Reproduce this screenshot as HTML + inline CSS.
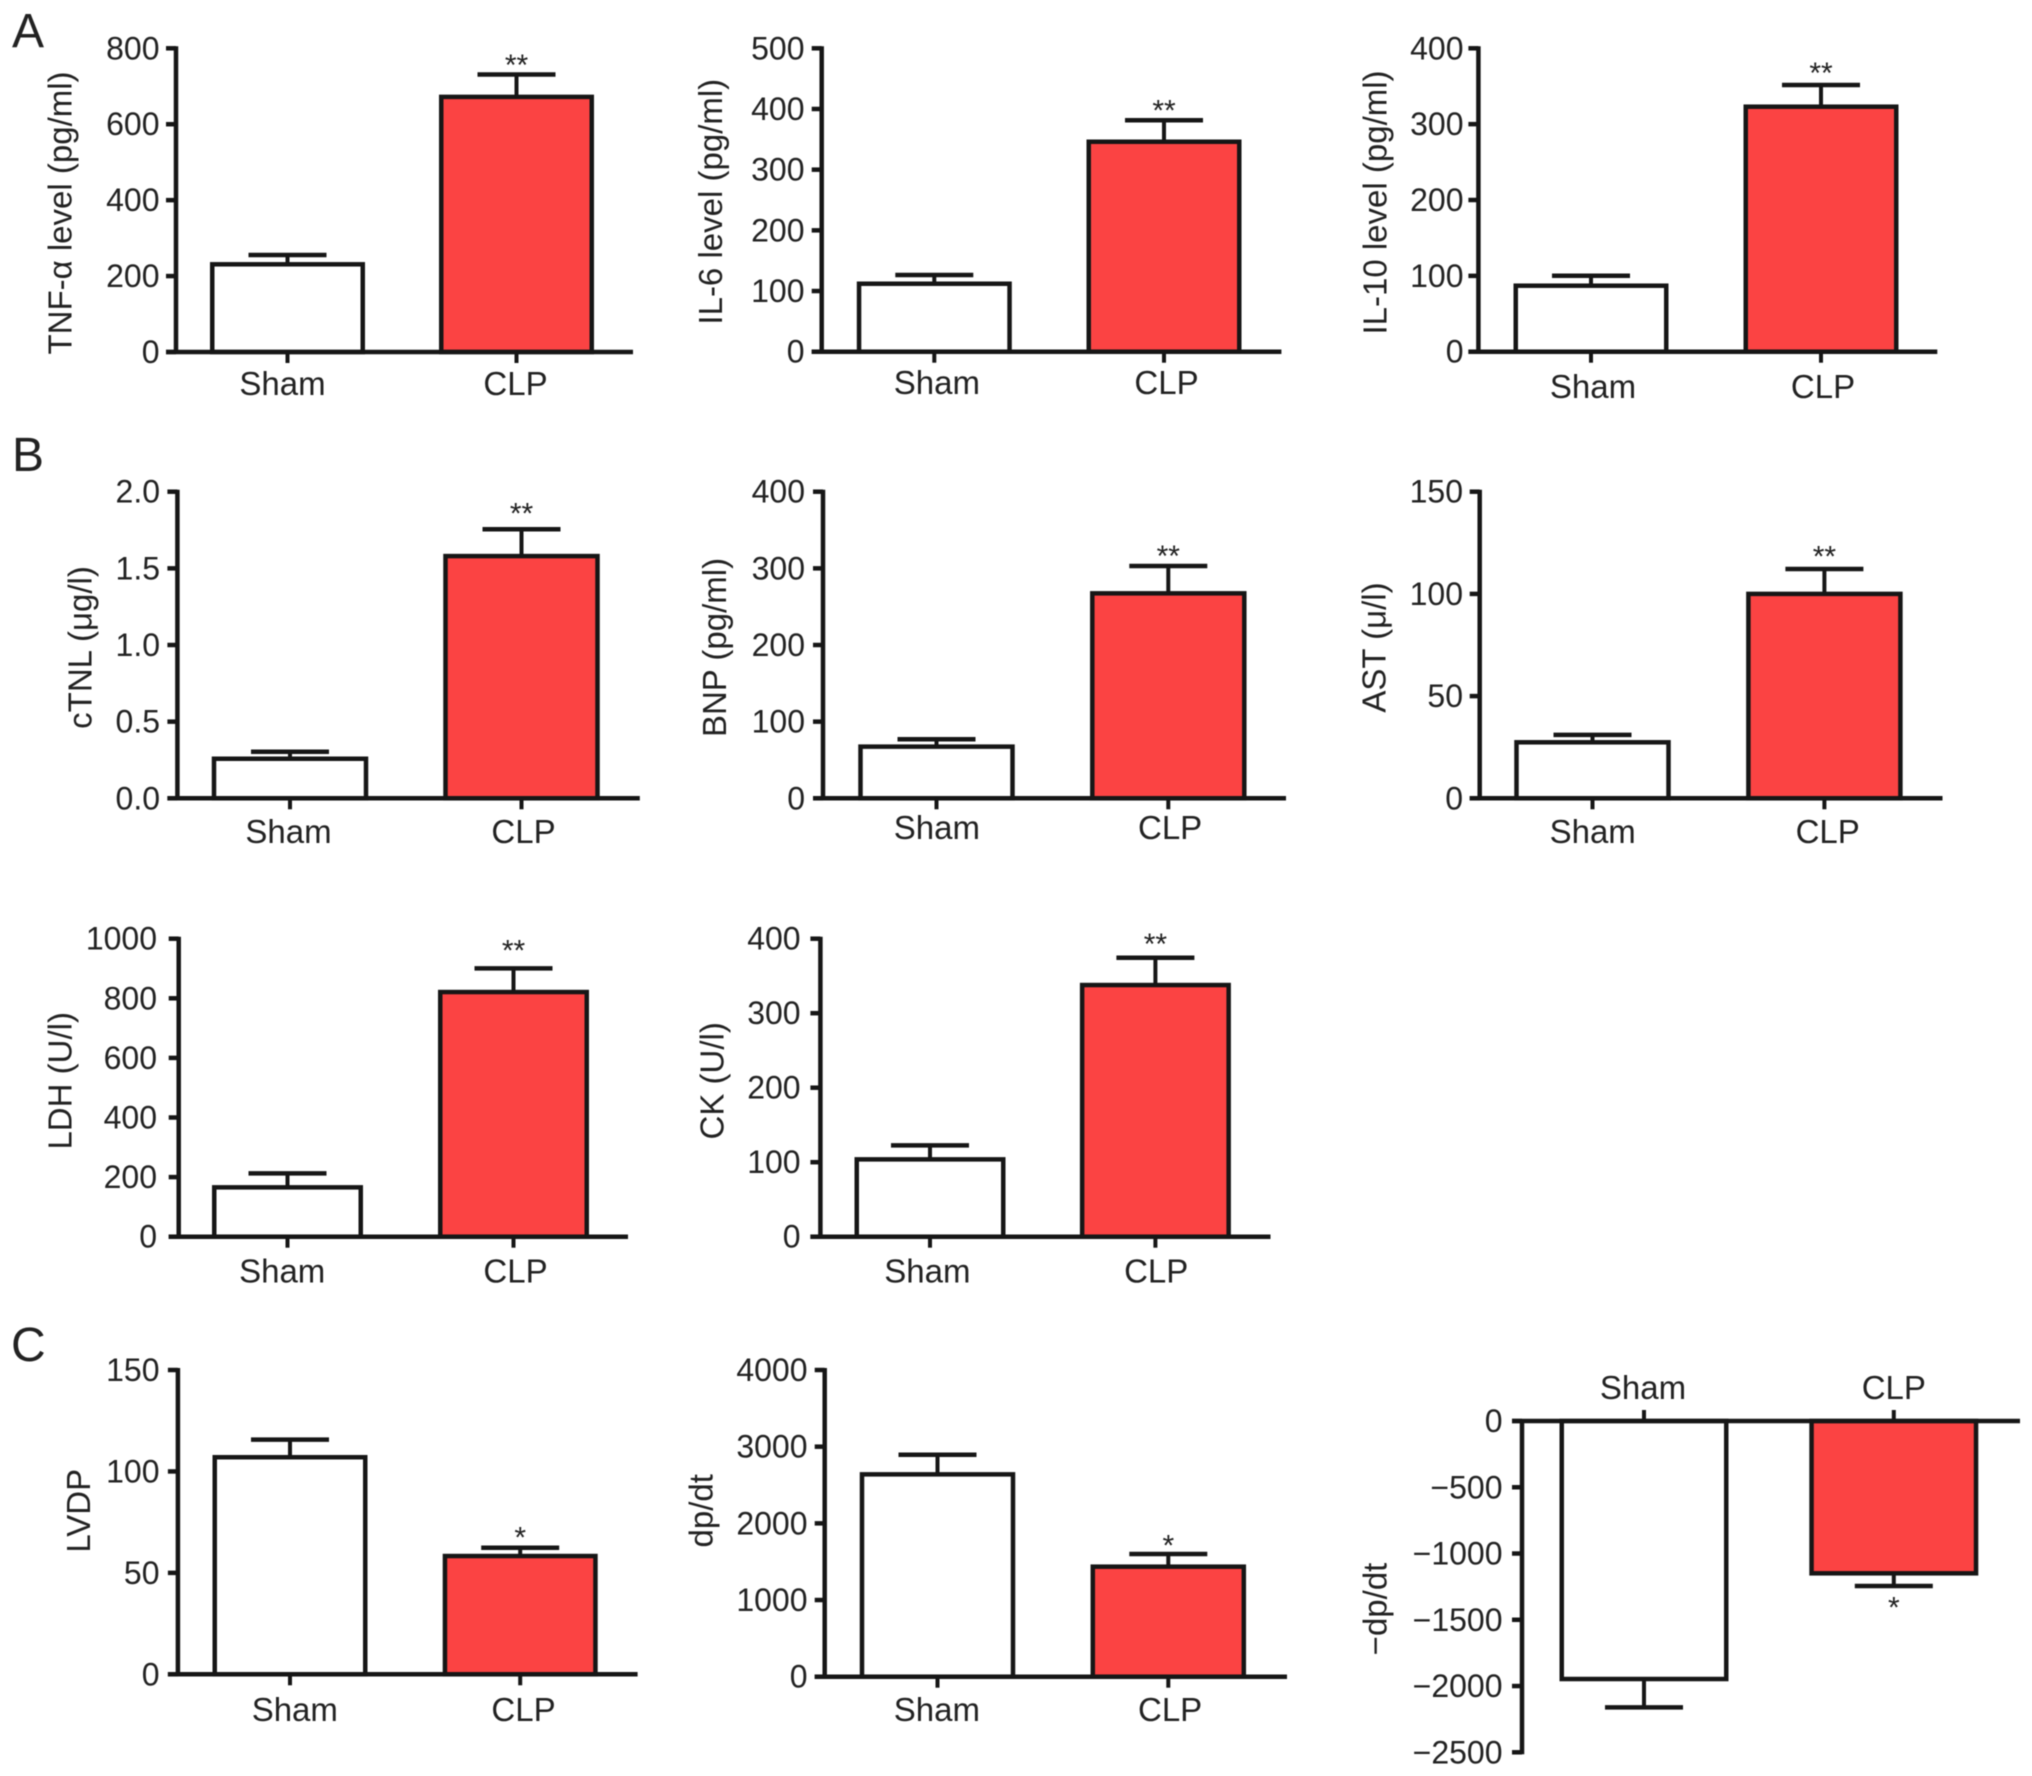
<!DOCTYPE html>
<html lang="en">
<head>
<meta charset="utf-8">
<title>Sham vs CLP bar charts</title>
<style>
html,body{margin:0;padding:0;background:#fff;}
#figure{display:block;width:2032px;height:1776px;filter:blur(0.6px);}
text{font-family:"Liberation Sans",sans-serif;fill:#222;}
</style>
</head>
<body>
<svg id="figure" xmlns="http://www.w3.org/2000/svg" width="2032" height="1776" viewBox="0 0 2032 1776">
<rect x="0" y="0" width="2032" height="1776" fill="#fff"></rect>
<text x="12" y="47" font-size="48">A</text>
<text x="12" y="471" font-size="48">B</text>
<text x="11" y="1361" font-size="48">C</text>
</svg>
<script>
const categories = ['Sham', 'CLP'];

const tnfTicks = [0, 200, 400, 600, 800];
const tnfMeans = [231, 672];
const tnfErrors = [24.5, 59];
const tnfStars = ['', '**'];

const il6Ticks = [0, 100, 200, 300, 400, 500];
const il6Means = [112, 346];
const il6Errors = [14.4, 35.4];
const il6Stars = ['', '**'];

const il10Ticks = [0, 100, 200, 300, 400];
const il10Means = [87, 323];
const il10Errors = [13.2, 28.6];
const il10Stars = ['', '**'];

const ctnlTicks = [0, 0.5, 1, 1.5, 2];
const ctnlMeans = [0.258, 1.58];
const ctnlErrors = [0.046, 0.175];
const ctnlStars = ['', '**'];

const bnpTicks = [0, 100, 200, 300, 400];
const bnpMeans = [67.4, 267.4];
const bnpErrors = [9.6, 35.6];
const bnpStars = ['', '**'];

const astTicks = [0, 50, 100, 150];
const astMeans = [27.4, 100];
const astErrors = [3.6, 12.2];
const astStars = ['', '**'];

const ldhTicks = [0, 200, 400, 600, 800, 1000];
const ldhMeans = [165.6, 821];
const ldhErrors = [47, 79.4];
const ldhStars = ['', '**'];

const ckTicks = [0, 100, 200, 300, 400];
const ckMeans = [103.8, 337.8];
const ckErrors = [18.8, 36.7];
const ckStars = ['', '**'];

const lvdpTicks = [0, 50, 100, 150];
const lvdpMeans = [107, 58.3];
const lvdpErrors = [8.7, 4.1];
const lvdpStars = ['', '*'];

const dpdtTicks = [0, 1000, 2000, 3000, 4000];
const dpdtMeans = [2639, 1435];
const dpdtErrors = [256, 165];
const dpdtStars = ['', '*'];

const negDpdtTicks = [0, -500, -1000, -1500, -2000, -2500];
const negDpdtMeans = [-1947, -1149.5];
const negDpdtErrors = [214, 95.5];
const negDpdtStars = ['', '*'];

const panels = [
  {id:'tnf', title:'TNF-α level (pg/ml)', ticks:tnfTicks, means:tnfMeans, errors:tnfErrors, stars:tnfStars, dec:0,
   axisX:176, axisRight:633, y0:352, y1:48.3, x0:287.5, dx:229, barW:155, labelY:395, labelDx:[-5,-1], tickLabelX:159.5, titleX:60.5, titleY:213, starGap:13.6},
  {id:'il6', title:'IL-6 level (pg/ml)', ticks:il6Ticks, means:il6Means, errors:il6Errors, stars:il6Stars, dec:0,
   axisX:821.7, axisRight:1281.4, y0:351.7, y1:48.3, x0:934.3, dx:229.7, barW:155, labelY:394, labelDx:[2.6,2.5], tickLabelX:804.5, titleX:711, titleY:201.7, starGap:13.6},
  {id:'il10', title:'IL-10 level (pg/ml)', ticks:il10Ticks, means:il10Means, errors:il10Errors, stars:il10Stars, dec:0,
   axisX:1478.4, axisRight:1937.3, y0:351.7, y1:48.3, x0:1591, dx:230, barW:155, labelY:398, labelDx:[2,2], tickLabelX:1463.5, titleX:1375.5, titleY:202.5, starGap:16},
  {id:'ctnl', title:'cTNL (μg/l)', ticks:ctnlTicks, means:ctnlMeans, errors:ctnlErrors, stars:ctnlStars, dec:1,
   axisX:177.4, axisRight:639.8, y0:798.3, y1:491.7, x0:290, dx:231.5, barW:156.5, labelY:843, labelDx:[-1.5,2], tickLabelX:160, titleX:80.3, titleY:647.5, starGap:20},
  {id:'bnp', title:'BNP (pg/ml)', ticks:bnpTicks, means:bnpMeans, errors:bnpErrors, stars:bnpStars, dec:0,
   axisX:823, axisRight:1286, y0:798.3, y1:491.7, x0:936.5, dx:231.8, barW:156.5, labelY:839, labelDx:[0.4,1.8], tickLabelX:805, titleX:715, titleY:647.5, starGap:14.3},
  {id:'ast', title:'AST (μ/l)', ticks:astTicks, means:astMeans, errors:astErrors, stars:astStars, dec:0,
   axisX:1479.7, axisRight:1942.5, y0:798.3, y1:491.7, x0:1592.5, dx:231.9, barW:156.5, labelY:843, labelDx:[0.2,3.3], tickLabelX:1463, titleX:1374.5, titleY:647.5, starGap:16.7},
  {id:'ldh', title:'LDH (U/l)', ticks:ldhTicks, means:ldhMeans, errors:ldhErrors, stars:ldhStars, dec:0,
   axisX:178.7, axisRight:628, y0:1236.7, y1:938.7, x0:287.5, dx:226, barW:151, labelY:1282.7, labelDx:[-5.3,2], tickLabelX:157, titleX:60.5, titleY:1080.8, starGap:21.7},
  {id:'ck', title:'CK (U/l)', ticks:ckTicks, means:ckMeans, errors:ckErrors, stars:ckStars, dec:0,
   axisX:820.4, axisRight:1270.5, y0:1236.7, y1:938.7, x0:930, dx:225.4, barW:151, labelY:1282.7, labelDx:[-2.6,0.8], tickLabelX:800.6, titleX:712.5, titleY:1080.8, starGap:17.7},
  {id:'lvdp', title:'LVDP', ticks:lvdpTicks, means:lvdpMeans, errors:lvdpErrors, stars:lvdpStars, dec:0,
   axisX:177.9, axisRight:637.6, y0:1674.3, y1:1370, x0:290, dx:230.2, barW:155, labelY:1721, labelDx:[4.8,3.3], tickLabelX:159.5, titleX:79, titleY:1510.8, starGap:14.3},
  {id:'dpdt', title:'dp/dt', ticks:dpdtTicks, means:dpdtMeans, errors:dpdtErrors, stars:dpdtStars, dec:0,
   axisX:824.7, axisRight:1287, y0:1676.7, y1:1370, x0:937.5, dx:230.8, barW:155.5, labelY:1721, labelDx:[-0.6,1.8], tickLabelX:807.5, titleX:701.5, titleY:1510.8, starGap:12.3},
  {id:'neg-dpdt', title:'−dp/dt', ticks:negDpdtTicks, means:negDpdtMeans, errors:negDpdtErrors, stars:negDpdtStars, dec:0,
   axisX:1522, axisRight:2020, y0:1421, y1:1752.3, x0:1644, dx:249.8, barW:169, labelY:1399, labelDx:[-1,0], tickLabelX:1502.5, titleX:1375.5, titleY:1609, starGap:17.3}
];

const SVG_NS = 'http://www.w3.org/2000/svg';
const INK = '#161616';
const BAR_FILLS = ['#ffffff', '#fb4343'];
const figure = document.getElementById('figure');

function mk(parent, tag, attrs, text) {
  const el = document.createElementNS(SVG_NS, tag);
  for (const k in attrs) el.setAttribute(k, attrs[k]);
  if (text !== undefined) el.textContent = text;
  parent.appendChild(el);
  return el;
}

function line(parent, x1, y1, x2, y2, w) {
  return mk(parent, 'line', {x1: x1, y1: y1, x2: x2, y2: y2, stroke: INK, 'stroke-width': w});
}

function formatTick(v, dec) {
  return v.toFixed(dec).replace('-', '−');
}

function drawPanel(p) {
  const tMin = p.ticks[0];
  const tMax = p.ticks[p.ticks.length - 1];
  const y = v => p.y0 + (v - tMin) / (tMax - tMin) * (p.y1 - p.y0);
  const x = i => p.x0 + i * p.dx;
  const inverted = tMax < tMin;
  const FS = 32;
  const LABEL_FS = 33;
  const STROKE = 4.5;

  const g = mk(figure, 'g', {});
  
  

  categories.forEach((cat, i) => {
    const sign = p.means[i] < 0 ? -1 : 1;
    const capY = y(p.means[i] + sign * p.errors[i]);
    const capHalf = 39;

    const stem = line(g, x(i), y(p.means[i]), x(i), capY, 4);
    
    

    const cap = line(g, x(i) - capHalf, capY, x(i) + capHalf, capY, STROKE);
    
    

    const innerW = p.barW - STROKE;
    const top = Math.min(y(0), y(p.means[i]));
    const bar = mk(g, 'rect', {
      x: x(i) - innerW / 2, y: top, width: innerW,
      height: Math.abs(y(p.means[i]) - y(0)),
      fill: BAR_FILLS[i], stroke: INK, 'stroke-width': STROKE
    });
    
    

    if (p.stars[i]) {
      const starY = inverted ? capY + p.starGap + 14 : capY - p.starGap + 14;
      const star = mk(g, 'text', {x: x(i), y: starY, 'font-size': 30, 'text-anchor': 'middle'}, p.stars[i]);
      
      
    }

    const tickMark = line(g, x(i), y(0), x(i), y(0) + (inverted ? -11 : 11), 4);
    
    

    const label = mk(g, 'text', {x: x(i) + p.labelDx[i], y: p.labelY, 'font-size': LABEL_FS, 'text-anchor': 'middle'}, cat);
    
    
  });

  const yAxis = line(g, p.axisX, y(tMin) - (inverted ? 2 : 0), p.axisX, y(tMax) + (inverted ? 2 : -2), STROKE);
  
  

  const xAxis = line(g, p.axisX - 10, y(0), p.axisRight, y(0), STROKE);
  
  

  p.ticks.forEach(v => {
    const tick = line(g, p.axisX - 10, y(v), p.axisX, y(v), STROKE);
    
    

    const tl = mk(g, 'text', {x: p.tickLabelX, y: y(v) + 11, 'font-size': FS, 'text-anchor': 'end'}, formatTick(v, p.dec));
    
    
  });

  const title = mk(g, 'text', {
    x: 0, y: 0, 'font-size': LABEL_FS, 'text-anchor': 'middle',
    transform: 'translate(' + (p.titleX + 11) + ',' + p.titleY + ') rotate(-90)'
  }, p.title);
  
  
}

panels.forEach(drawPanel);
</script>
</body>
</html>
